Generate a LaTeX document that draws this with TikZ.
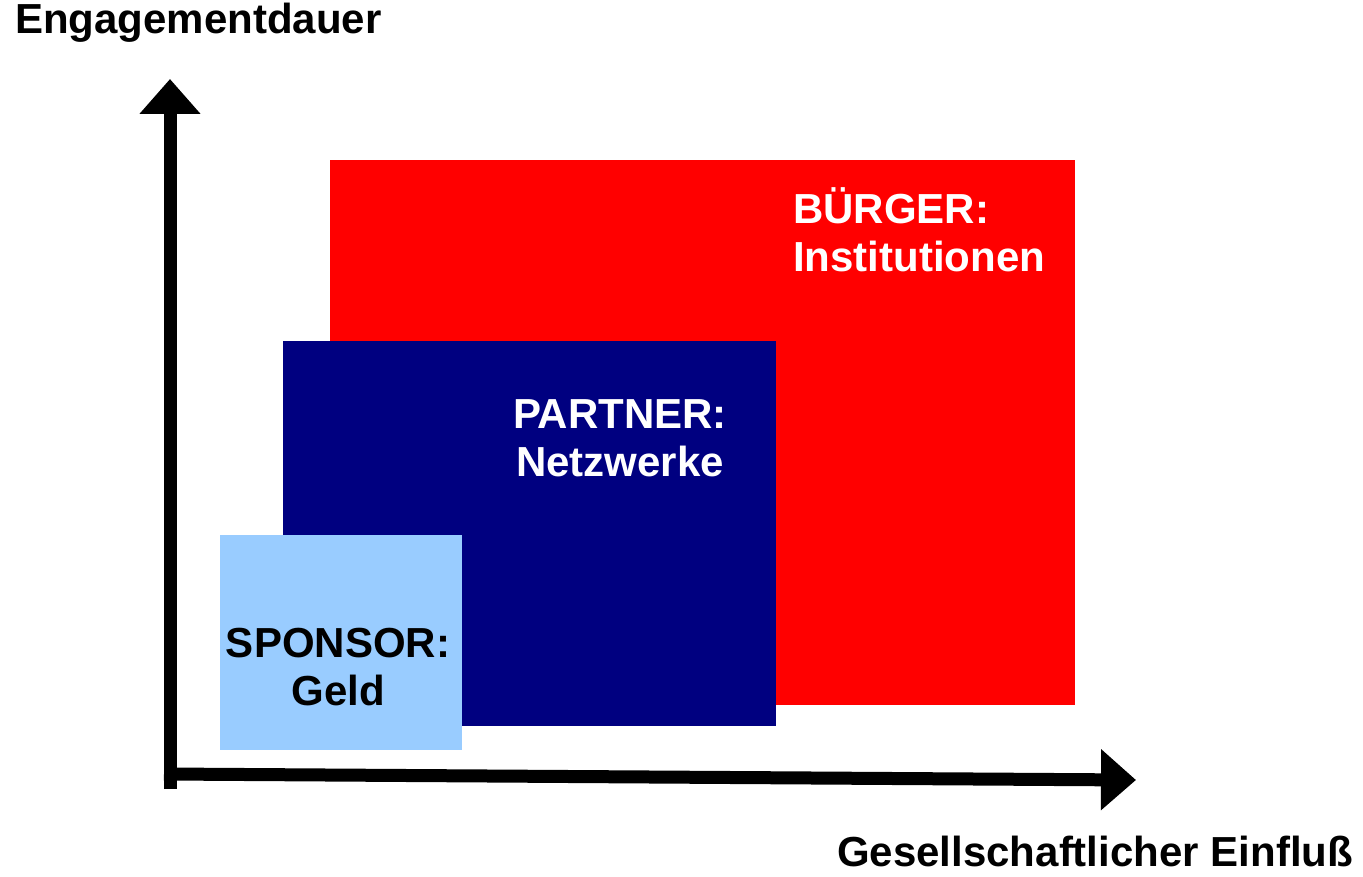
\documentclass[tikz,border=0pt]{standalone}
\usepackage{fontspec}
\setmainfont{Liberation Sans}
\usetikzlibrary{arrows.meta}
\definecolor{buergerred}{HTML}{FF0000}
\definecolor{partnerblue}{HTML}{000080}
\definecolor{sponsorblue}{HTML}{99CCFF}
\tikzset{
axis/.style={
  line width=13pt,
  -{Triangle[length=35pt,width=59pt]}
  },
lbl/.style={
  font=\bfseries\fontsize{42}{48}\selectfont,
  inner sep=0pt
  },
lbls/.style={
  lbl,
  text=#1,
  align=center
  }
}

\begin{document}
\begin{tikzpicture}[x=1pt,y=-1pt]
  \useasboundingbox (0,0) rectangle (1363,877);
  \fill[buergerred] (330,160) rectangle (1075,705);
  \fill[partnerblue] (283,341) rectangle (776,726);
  \fill[sponsorblue] (220,535) rectangle (462,750);
  \coordinate (origin) at (170,789);
  \coordinate (ytip) at (170,79);
  \coordinate (xstart) at (164,774);
  \coordinate (xtip) at (1136,780);
  \draw[axis] (origin) -- (ytip);
  \draw[axis] (xstart) -- (xtip);
  \node[lbl,anchor=base west] (ylabel) at (15,34) {Engagementdauer};
  \node[lbl,anchor=base west] (xlabel) at (837,866) {Gesellschaftlicher Einflu\ss};
  \node[lbls=white,align=left,anchor=base west] (buerger) at (793,272) {BÜRGER:\\Institutionen};
  \node[lbls=white,anchor=base] (partner) at (620,476) {PARTNER:\\Netzwerke};
  \node[lbls=black,anchor=base] (sponsor) at (338,705) {SPONSOR:\\Geld};
\end{tikzpicture}
\end{document}
